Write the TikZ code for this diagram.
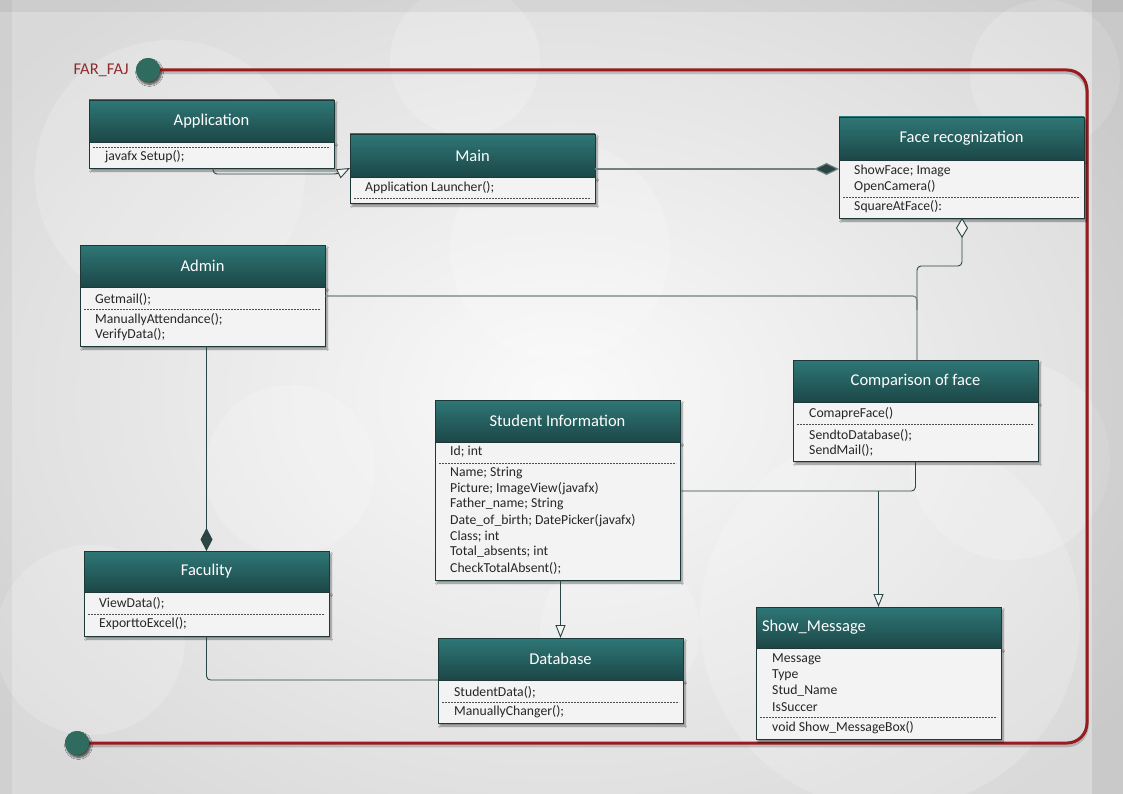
\documentclass[tikz,border=0pt]{standalone}
\usepackage{fontspec}
\setmainfont{Carlito}
\usetikzlibrary{arrows.meta,calc,shadows.blur}

\definecolor{hdtop}{HTML}{2F7777}
\definecolor{hdbot}{HTML}{1C4747}
\definecolor{edge}{HTML}{1E3838}
\definecolor{bodyfill}{HTML}{F3F3F3}
\definecolor{wire}{HTML}{2B4545}
\definecolor{wirelight}{HTML}{6F8383}
\definecolor{frame}{HTML}{9A1B1E}
\definecolor{dotfill}{HTML}{2F6B5F}
\definecolor{tag}{HTML}{8E2C2C}
\definecolor{bgedge}{HTML}{D9D9D9}
\definecolor{bgmid}{HTML}{FAFAFA}

\begin{document}
\begin{tikzpicture}[x=1pt,y=-1pt,
  hdr/.style={draw=edge, line width=0.7pt, top color=hdtop, bottom color=hdbot,
    text=white, font=\fontsize{16.5}{18}\selectfont, minimum width=245pt,
    minimum height=#1, inner sep=0pt, outer sep=0pt, anchor=north west,
    blur shadow={shadow xshift=2pt, shadow yshift=-3pt, shadow blur steps=6, shadow opacity=45}},
  hdr/.default=42pt,
  bdy/.style={draw=edge, line width=0.7pt, fill=bodyfill, minimum width=245pt,
    minimum height=#1, inner sep=0pt, outer sep=0pt, anchor=north west,
    blur shadow={shadow xshift=2pt, shadow yshift=-3pt, shadow blur steps=6, shadow opacity=45}},
  item/.style={anchor=west, inner sep=0pt, font=\fontsize{13.7}{15}\selectfont, text=black!85},
  sep/.style={draw=black!70, line width=0.6pt, dash pattern=on 2pt off 1pt},
  wireline/.style={draw=wire, line width=0.9pt, rounded corners=4pt},
  wirepale/.style={draw=wirelight, line width=1.1pt, rounded corners=4pt},
  genarrow/.style={-{Triangle[open, length=13pt, width=10pt, fill=bodyfill]}},
  dotnode/.style={circle, fill=dotfill, minimum size=24pt, inner sep=0pt,
    blur shadow={shadow xshift=1.5pt, shadow yshift=-2.5pt, shadow blur steps=6, shadow opacity=40}},
  frameline/.style={draw=frame, line width=3pt, rounded corners=20pt},
  frameshade/.style={draw=black, opacity=0.18, line width=3.5pt, rounded corners=20pt}
]
\useasboundingbox (0,0) rectangle (1123,794);

% ---------- backdrop ----------
\begin{scope}
  \clip (0,0) rectangle (1123,794);
  \fill[bgedge] (0,0) rectangle (1123,794);
  \shade[inner color=bgmid, outer color=bgedge] (-150,-120) rectangle (1273,914);
  \begin{scope}[white, opacity=0.18]
    \fill (170,175) circle (135);
    \fill (465,60) circle (75);
    \fill (1045,75) circle (75);
    \fill (290,470) circle (85);
    \fill (90,640) circle (95);
    \fill (890,620) circle (190);
    \fill (1010,460) circle (100);
    \fill (620,630) circle (80);
    \fill (560,250) circle (110);
  \end{scope}
  \fill[black, opacity=0.05] (0,0) rectangle (1123,12);
  \fill[black, opacity=0.07] (1092,0) rectangle (1123,794);
  \fill[black, opacity=0.04] (0,0) rectangle (12,794);
\end{scope}

% ---------- project frame ----------
\coordinate (rtop) at (1087,70);
\coordinate (rbot) at (1087,743);
\node[dotnode] (c1) at (148,70) {};
\node[dotnode] (c2) at (77,743) {};
\draw[frameshade] ($(c1.east)+(0,2.5)$) -- ($(rtop)+(0,2.5)$) -- ($(rbot)+(0,2.5)$) -- ($(c2.east)+(0,2.5)$);
\draw[frameline] (c1.east) -- (rtop) -- (rbot) -- (c2.east);
\node[dotnode] at (c1) {};
\node[dotnode] at (c2) {};
\node[anchor=east, inner sep=0pt, text=tag, font=\fontsize{16.5}{18}\selectfont] (tagname) at ($(c1.west)+(-7,0)$) {FAR\_FAJ};

% ---------- classes ----------
% Application
\node[hdr] (apph) at (89,100) {Application};
\node[bdy=26pt] (appb) at (apph.south west) {};
\draw[sep] ($(appb.north west)+(4,5)$) -- ($(appb.north east)+(-4,5)$);
\node[item] (app1) at ($(appb.north west)+(16,15)$) {javafx Setup();};

% Main
\node[hdr=43pt] (mainh) at (350,134) {Main};
\node[bdy=26pt] (mainb) at (mainh.south west) {};
\node[item] (main1) at ($(mainb.north west)+(15,11)$) {Application Launcher();};
\draw[sep] ($(mainb.north west)+(4,21)$) -- ($(mainb.north east)+(-4,21)$);

% Face recognization
\node[hdr=43pt] (faceh) at (839,117) {Face recognization};
\node[bdy=58pt] (faceb) at (faceh.south west) {};
\node[item] (face1) at ($(faceb.north west)+(15,11)$) {ShowFace; Image};
\node[item] (face2) at ($(faceb.north west)+(15,27)$) {OpenCamera()};
\draw[sep] ($(faceb.north west)+(4,37)$) -- ($(faceb.north east)+(-4,37)$);
\node[item] (face3) at ($(faceb.north west)+(15,47)$) {SquareAtFace():};

% Admin
\node[hdr] (admh) at (80,245) {Admin};
\node[bdy=59pt] (admb) at (admh.south west) {};
\node[item] (adm1) at ($(admb.north west)+(15,12)$) {Getmail();};
\draw[sep] ($(admb.north west)+(4,22)$) -- ($(admb.north east)+(-4,22)$);
\node[item] (adm2) at ($(admb.north west)+(15,33)$) {ManuallyAttendance();};
\node[item] (adm3) at ($(admb.north west)+(15,48)$) {VerifyData();};

% Student Information
\node[hdr] (stuh) at (435,400) {Student Information};
\node[bdy=138pt] (stub) at (stuh.south west) {};
\node[item] (stu1) at ($(stub.north west)+(15,10)$) {Id; int};
\draw[sep] ($(stub.north west)+(4,21)$) -- ($(stub.north east)+(-4,21)$);
\node[item] (stu2) at ($(stub.north west)+(15,31)$) {Name; String};
\node[item] (stu3) at ($(stub.north west)+(15,47)$) {Picture; ImageView(javafx)};
\node[item] (stu4) at ($(stub.north west)+(15,62)$) {Father\_name; String};
\node[item] (stu5) at ($(stub.north west)+(15,79)$) {Date\_of\_birth; DatePicker(javafx)};
\node[item] (stu6) at ($(stub.north west)+(15,95)$) {Class; int};
\node[item] (stu7) at ($(stub.north west)+(15,110)$) {Total\_absents; int};
\node[item] (stu8) at ($(stub.north west)+(15,126)$) {CheckTotalAbsent();};

% Comparison of face
\node[hdr] (comph) at (793,360) {Comparison of face};
\node[bdy=59pt] (compb) at (comph.south west) {};
\node[item] (comp1) at ($(compb.north west)+(16,12)$) {ComapreFace()};
\draw[sep] ($(compb.north west)+(4,22)$) -- ($(compb.north east)+(-4,22)$);
\node[item] (comp2) at ($(compb.north west)+(16,33)$) {SendtoDatabase();};
\node[item] (comp3) at ($(compb.north west)+(16,48)$) {SendMail();};

% Faculty
\node[hdr=41pt] (fach) at (84,551) {Faculity};
\node[bdy=44pt] (facb) at (fach.south west) {};
\node[item] (fac1) at ($(facb.north west)+(15,11)$) {ViewData();};
\draw[sep] ($(facb.north west)+(4,22)$) -- ($(facb.north east)+(-4,22)$);
\node[item] (fac2) at ($(facb.north west)+(15,32)$) {ExporttoExcel();};

% Database
\node[hdr] (dbh) at (438,638) {Database};
\node[bdy=43pt] (dbb) at (dbh.south west) {};
\node[item] (db1) at ($(dbb.north west)+(16,12)$) {StudentData();};
\draw[sep] ($(dbb.north west)+(4,22)$) -- ($(dbb.north east)+(-4,22)$);
\node[item] (db2) at ($(dbb.north west)+(16,32)$) {ManuallyChanger();};

% Show_Message
\node[hdr=41pt, text width=233pt, align=left] (showh) at (756,607) {Show\_Message};
\node[bdy=91pt] (showb) at (showh.south west) {};
\node[item] (show1) at ($(showb.north west)+(16,11)$) {Message};
\node[item] (show2) at ($(showb.north west)+(16,27)$) {Type};
\node[item] (show3) at ($(showb.north west)+(16,43)$) {Stud\_Name};
\node[item] (show4) at ($(showb.north west)+(16,59)$) {IsSuccer};
\draw[sep] ($(showb.north west)+(4,69)$) -- ($(showb.north east)+(-4,69)$);
\node[item] (show5) at ($(showb.north west)+(16,80)$) {void Show\_MessageBox()};

% ---------- relations ----------
% Application generalises Main
\draw[wireline, genarrow] ($(appb.south west)+(124,0)$) |- ($(mainh.south west)+(-12,-3)$) -- ($(mainh.south west)+(0,-9)$);
% Main composed into Face recognization
\draw[wirepale, rounded corners=0pt, -{Turned Square[length=25pt, width=12pt, fill=wire]}]
  ($(mainh.south east)+(0,-8)$) -- ($(faceb.north west)+(0,9)$);
% Face recognization aggregates Comparison of face
\draw[wireline, {Turned Square[open, length=20pt, width=12pt, fill=bodyfill]}-]
  ($(faceb.south west)+(123,0)$) |- ($(comph.north west)+(124,-94)$) -- ($(comph.north west)+(124,0)$);
% Admin joins the comparison line
\draw[wirepale] ($(admb.north east)+(0,9)$) -- ($(comph.north west)+(124,-64)$) -- ($(comph.north west)+(124,-50)$);
% Admin composed into Faculty
\draw[wireline, -{Turned Square[length=23pt, width=12pt, fill=wire]}] (fach.north |- admb.south) -- (fach.north);
% Faculty to Database
\draw[wireline] (facb.south) |- (dbh.south west);
% Student Information generalises Database
\draw[wireline, rounded corners=0pt, genarrow] (dbh.north |- stub.south) -- (dbh.north);
% Student Information to Comparison of face
\coordinate (jn) at ($(stub.north east)+(0,49)$);
\draw[wireline] (jn) -| (compb.south);
% branch to Show_Message
\draw[wireline, rounded corners=0pt, genarrow] (jn -| showh.north) -- (showh.north);

\end{tikzpicture}
\end{document}
